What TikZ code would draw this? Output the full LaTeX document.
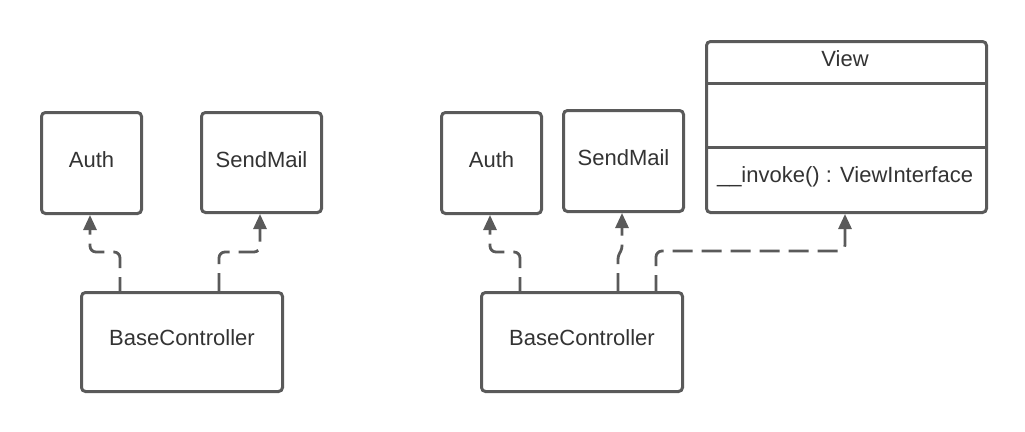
\documentclass[tikz,border=0pt]{standalone}
\usepackage{fontspec}
\setmainfont{Liberation Sans}
\usetikzlibrary{arrows.meta,calc}
\definecolor{ln}{HTML}{5A5A5A}
\definecolor{tx}{HTML}{333333}
\tikzset{
  box/.style={draw=ln, line width=3pt, rounded corners=4pt, fill=white, inner sep=0pt, anchor=north west},
  lbl/.style={text=tx, font=\fontsize{22}{25}\selectfont, inner sep=0pt},
  dep/.style={draw=ln, line width=2.8pt, dash pattern=on 20pt off 9pt, rounded corners=6pt,
    -{Triangle[width=13pt,length=15pt]}},
}
\begin{document}
\begin{tikzpicture}[x=1pt,y=-1pt]
\useasboundingbox[fill=white] (0,0) rectangle (1025,431);
% left diagram
\node[box, minimum width=100pt, minimum height=101pt] (auth1) at (40,111) {};
\node[lbl] (auth1t) at ($(auth1.center)+(0,-3)$) {Auth};
\node[box, minimum width=120pt, minimum height=100pt] (sm1) at (200,111) {};
\node[lbl] (sm1t) at ($(sm1.center)+(0,-3)$) {SendMail};
\node[box, minimum width=201pt, minimum height=99pt] (bc1) at (80,291) {};
\node[lbl] (bc1t) at ($(bc1.center)+(0,-4)$) {BaseController};
\coordinate (c1) at (120,252);
\coordinate (c2) at (90,252);
\coordinate (c3) at (219,252);
\coordinate (c4) at (260,252);
\draw[dep, dash phase=6pt] (bc1.north -| c1) -- (c1) -- (c2) -- (auth1.south -| c2);
\draw[dep, dash phase=2pt] (bc1.north -| c3) -- (c3) -- (c4) -- (sm1.south -| c4);
% right diagram
\node[box, minimum width=100pt, minimum height=101pt] (auth2) at (440,111) {};
\node[lbl] (auth2t) at ($(auth2.center)+(0,-3)$) {Auth};
\node[box, minimum width=120pt, minimum height=101pt] (sm2) at (562,109) {};
\node[lbl] (sm2t) at ($(sm2.center)+(0,-3)$) {SendMail};
\node[box, minimum width=201pt, minimum height=99pt] (bc2) at (480,291) {};
\node[lbl] (bc2t) at ($(bc2.center)+(0,-4)$) {BaseController};
\node[box, minimum width=280pt, minimum height=171pt] (view) at (705,40) {};
\coordinate (d1) at (705,83);
\coordinate (d2) at (705,147);
\draw[draw=ln, line width=3pt] (d1) -- (d1 -| view.east);
\draw[draw=ln, line width=3pt] (d2) -- (d2 -| view.east);
\node[lbl] (viewt) at (845,59) {View};
\node[lbl] (viewm) at (845,177) {\_\_invoke() : ViewInterface};
\coordinate (e1) at (520,252);
\coordinate (e2) at (490,252);
\coordinate (f1) at (618,256);
\coordinate (f2) at (622,249);
\coordinate (g1) at (656,251);
\coordinate (g2) at (845,251);
\draw[dep, dash phase=6pt] (bc2.north -| e1) -- (e1) -- (e2) -- (auth2.south -| e2);
\draw[dep, dash phase=2pt, rounded corners=3pt] (bc2.north -| f1) -- (f1) -- (f2) -- (sm2.south -| f2);
\draw[dep, dash phase=4pt] (bc2.north -| g1) -- (g1) -- (g2) -- (view.south -| g2);
\end{tikzpicture}
\end{document}
